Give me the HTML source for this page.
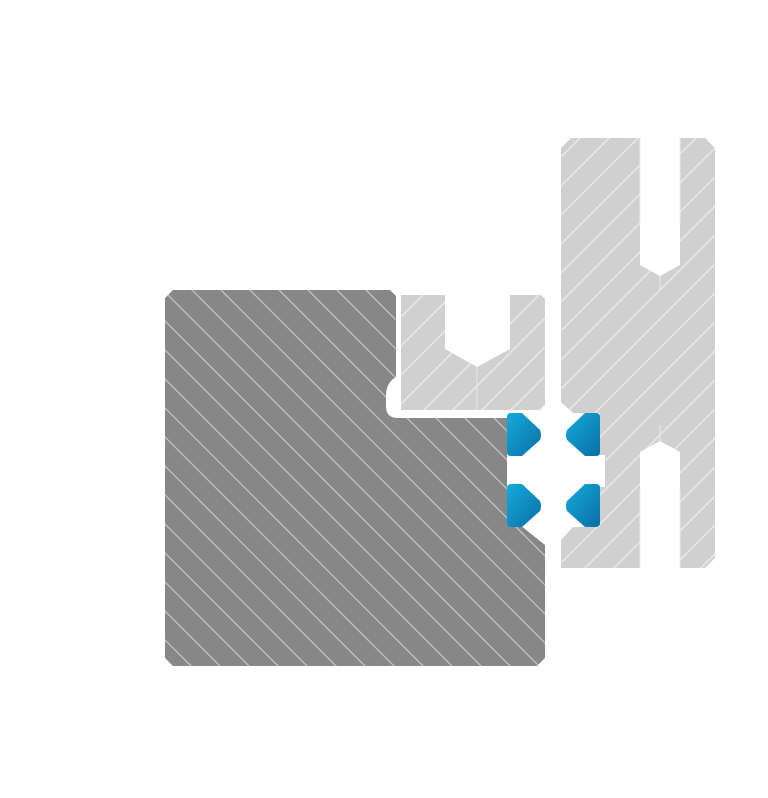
<!DOCTYPE html>
<html><head><style>html,body{margin:0;padding:0;background:#fff}svg{display:block}</style></head>
<body>
<svg width="768" height="798" viewBox="0 0 768 798" xmlns="http://www.w3.org/2000/svg">
<defs>
<clipPath id="cd"><path id="pd" d="M173,290 L390,290 L396,296 L396,377 Q386,383 386,395 L386,406 Q386,418 398,418 L507,418 L507,525 L520,525 L545,545 L545,658 L537,666 L173,666 L165,658 L165,298 Z"/></clipPath>
<clipPath id="cl">
<path d="M401,295 L445,295 L445,349 L477,367 L510,349 L510,295 L541,295 L545,299 L545,405 L540,410 L401,410 Z"/>
<path d="M571,138 L640,138 L640,265 L660,276 L680,265 L680,138 L705,138 L715,148 L715,558 L705,568 L680,568 L680,452 L660,441 L640,452 L640,568 L561,568 L561,540 L573,527 L600,527 L600,487 L605,487 L605,455 L600,455 L600,413 L573,413 L561,402 L561,148 Z"/>
</clipPath>
<linearGradient id="bl" x1="0" y1="0" x2="1" y2="1"><stop offset="0" stop-color="#14abdb"/><stop offset="1" stop-color="#0b6ea5"/></linearGradient>
</defs>
<g clip-path="url(#cd)">
<rect x="150" y="280" width="420" height="400" fill="#878787"/>
<path stroke="#c4c4c4" stroke-width="1.3" fill="none" d="M-504,0l800,800M-475,0l800,800M-446,0l800,800M-417,0l800,800M-388,0l800,800M-359,0l800,800M-330,0l800,800M-301,0l800,800M-272,0l800,800M-243,0l800,800M-214,0l800,800M-185,0l800,800M-156,0l800,800M-127,0l800,800M-98,0l800,800M-69,0l800,800M-40,0l800,800M-11,0l800,800M18,0l800,800M47,0l800,800M76,0l800,800M105,0l800,800M134,0l800,800M163,0l800,800M192,0l800,800M221,0l800,800M250,0l800,800"/>
</g>
<g clip-path="url(#cl)">
<rect x="390" y="130" width="340" height="450" fill="#d0d0d0"/>
<path stroke="#ececec" stroke-width="1.3" fill="none" d="M515,0l-800,800M544,0l-800,800M573,0l-800,800M602,0l-800,800M631,0l-800,800M660,0l-800,800M689,0l-800,800M718,0l-800,800M747,0l-800,800M776,0l-800,800M805,0l-800,800M834,0l-800,800M863,0l-800,800M892,0l-800,800M921,0l-800,800M950,0l-800,800M979,0l-800,800M1008,0l-800,800M1037,0l-800,800M1066,0l-800,800M1095,0l-800,800M1124,0l-800,800M1153,0l-800,800M1182,0l-800,800M1211,0l-800,800M1240,0l-800,800M1269,0l-800,800M1298,0l-800,800"/>
</g>
<line x1="477" y1="367" x2="477" y2="410" stroke="#e6e6e6" stroke-width="1"/>
<g stroke="#ececec" stroke-width="1" fill="none">
<path d="M640,138 V223 M680,138 V223 M660,276 V290 M660,441 V425 M640,568 V490 M680,568 V490"/>
</g>
<g fill="url(#bl)">
<path d="M511,413 L522,413 L540,430 Q542,435 540,440 L522,456 L511,456 Q507,456 507,452 L507,417 Q507,413 511,413 Z"/>
<path d="M596,413 L585,413 L567,430 Q565,435 567,440 L585,456 L596,456 Q600,456 600,452 L600,417 Q600,413 596,413 Z"/>
<path d="M511,484 L522,484 L540,501 Q542,506 540,511 L522,527 L511,527 Q507,527 507,523 L507,488 Q507,484 511,484 Z"/>
<path d="M596,484 L585,484 L567,501 Q565,506 567,511 L585,527 L596,527 Q600,527 600,523 L600,488 Q600,484 596,484 Z"/>
</g>
</svg>
</body></html>
